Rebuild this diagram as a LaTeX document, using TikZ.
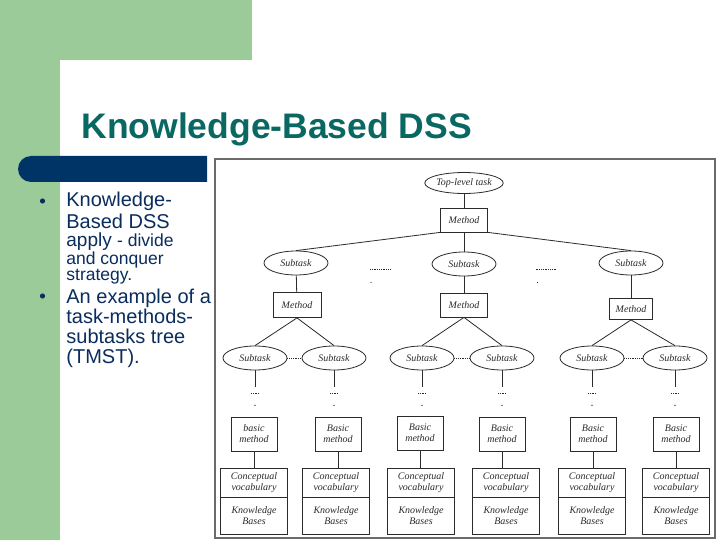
\documentclass[tikz,border=0pt]{standalone}
\usepackage{fontspec}
\setmainfont{Liberation Serif}
\setsansfont{Liberation Sans}
\usetikzlibrary{shapes.geometric,positioning}
\definecolor{DSSGreen}{HTML}{9BCB99}
\definecolor{DSSBar}{HTML}{003366}
\definecolor{DSSTeal}{HTML}{0A6862}
\definecolor{DSSText}{HTML}{0A2D5E}
\definecolor{TreeInk}{HTML}{2B2B2B}
\definecolor{FrameGray}{HTML}{6A6A6A}

\begin{document}
\begin{tikzpicture}[x=1pt,y=-1pt,line width=0.8pt,
  task/.style={ellipse,draw=TreeInk,inner sep=0pt,minimum width=64pt,minimum height=24pt},
  meth/.style={rectangle,draw=TreeInk,inner sep=1pt,minimum width=47pt,minimum height=24pt},
  basic/.style={meth,align=center,minimum width=46pt,minimum height=34pt},
  vocab/.style={rectangle,draw=TreeInk,align=center,inner sep=1pt,outer sep=0pt,minimum width=67pt,minimum height=29pt},
  kbase/.style={vocab,minimum height=37pt},
  bodyline/.style={font=\sffamily\fontsize{20}{24}\selectfont,text=DSSText,inner sep=0pt,anchor=base west},
  smallline/.style={bodyline,font=\sffamily\fontsize{17.5}{20}\selectfont}]
  \useasboundingbox (0,0) rectangle (720,540);

  % slide background
  \fill[white] (0,0) rectangle (720,540);
  \fill[DSSGreen] (0,0) rectangle (252,60);
  \fill[DSSGreen] (0,0) rectangle (60,540);
  \fill[white] (80,60) rectangle (720,540);
  \fill[white] (60,80) rectangle (720,540);
  \fill[white] (80,80) circle (20pt);
  \fill[DSSBar] (207,156) [rounded corners=13pt] -- (18,156) -- (18,182) [sharp corners] -- (207,182) -- cycle;

  \node[font=\sffamily\bfseries\fontsize{35.5}{40}\selectfont,text=DSSTeal,inner sep=0pt,anchor=base west] (title) at (81,139) {Knowledge-Based DSS};

  % bullets
  \fill[DSSText] (42.5,201) circle (2.6pt);
  \node[bodyline] (k1) at (66,207) {Knowledge-};
  \node[bodyline] (k2) at (66,229) {Based DSS};
  \node[bodyline,font=\sffamily\fontsize{19}{24}\selectfont] (k3) at (66,246.5) {apply {\fontsize{17.5}{20}\selectfont - divide}};
  \node[smallline] (k4) at (66,264) {and conquer};
  \node[smallline] (k5) at (66,280.5) {strategy.};
  \fill[DSSText] (42.5,296) circle (2.6pt);
  \node[bodyline] (e1) at (66,303) {An example of a};
  \node[bodyline] (e2) at (66,323) {task-methods-};
  \node[bodyline] (e3) at (66,343) {subtasks tree};
  \node[bodyline] (e4) at (66,363) {(TMST).};

  % the TMST figure
  \draw[FrameGray,line width=1.2pt,fill=white] (215,159) rectangle (715,538);

  \begin{scope}[font=\rmfamily\itshape\fontsize{10}{11}\selectfont,text=TreeInk,draw=TreeInk]
    \node[task,minimum width=72pt,minimum height=21pt] (top) at (464,183) {Top-level task};
    \node[meth] (m0) at (464,220) {Method};
    \draw (top) -- (m0);

    \node[task] (sA) at (296,263) {Subtask};
    \node[task] (sB) at (464,264) {Subtask};
    \node[task] (sC) at (631,263) {Subtask};
    \draw (m0.south west) -- (sA.north);
    \draw (m0) -- (sB);
    \draw (m0.south east) -- (sC.north);
    \path (sA) -- (sB) coordinate[pos=.5] (gapAB);
    \path (sB) -- (sC) coordinate[pos=.5] (gapBC);
    \draw[densely dotted] ([xshift=-10pt,yshift=-6pt]gapAB) -- ++(20,0);
    \draw[densely dotted] ([xshift=-12pt,yshift=-6pt]gapBC) -- ++(20,0);
    \fill[TreeInk] ([xshift=-9pt,yshift=-19pt]gapAB) circle (0.6pt);
    \fill[TreeInk] ([xshift=-10pt,yshift=-19pt]gapBC) circle (0.6pt);

    \node[meth,minimum width=48pt,minimum height=25pt] (mA) at (297,305) {Method};
    \node[meth] (mB) at (464,305) {Method};
    \node[meth,minimum width=43pt,minimum height=21pt] (mC) at (631,309) {Method};
    \draw (sA) -- (mA);
    \draw (sB) -- (mB);
    \draw (sC) -- (mC);

    \node[task] (t1) at (255,358) {Subtask};
    \node[task] (t2) at (334,358) {Subtask};
    \node[task] (t3) at (422,358) {Subtask};
    \node[task] (t4) at (502,358) {Subtask};
    \node[task] (t5) at (592,358) {Subtask};
    \node[task] (t6) at (675,358) {Subtask};
    \draw (mA.south) -- (t1.north);
    \draw (mA.south) -- (t2.north);
    \draw (mB.south) -- (t3.north);
    \draw (mB.south) -- (t4.north);
    \draw (mC.south) -- (t5.north);
    \draw (mC.south) -- (t6.north);
    \draw[densely dotted] (t1) -- (t2);
    \draw[densely dotted] (t3) -- (t4);
    \draw[densely dotted] (t5) -- (t6);

    \node[basic] (b1) at (254,434) {basic\\method};
    \node[basic] (b2) at (338,434) {Basic\\method};
    \node[basic] (b3) at (420,433) {Basic\\method};
    \node[basic] (b4) at (502,434) {Basic\\method};
    \node[basic] (b5) at (593,434) {Basic\\method};
    \node[basic] (b6) at (676,434) {Basic\\method};

    % subtask down to the basic method: line, dots
    \draw (t1.south) -- ++(0,17) coordinate (v1);
    \draw (t2.south) -- ++(0,17) coordinate (v2);
    \draw (t3.south) -- ++(0,17) coordinate (v3);
    \draw (t4.south) -- ++(0,17) coordinate (v4);
    \draw (t5.south) -- ++(0,17) coordinate (v5);
    \draw (t6.south) -- ++(0,17) coordinate (v6);
    \draw[densely dotted] ([xshift=-4pt,yshift=-6pt]v1) -- ++(8,0);
    \draw[densely dotted] ([xshift=-4pt,yshift=-6pt]v2) -- ++(8,0);
    \draw[densely dotted] ([xshift=-4pt,yshift=-6pt]v3) -- ++(8,0);
    \draw[densely dotted] ([xshift=-4pt,yshift=-6pt]v4) -- ++(8,0);
    \draw[densely dotted] ([xshift=-4pt,yshift=-6pt]v5) -- ++(8,0);
    \draw[densely dotted] ([xshift=-4pt,yshift=-6pt]v6) -- ++(8,0);
    \fill[TreeInk] ([yshift=-18pt]v1) circle (0.7pt);
    \fill[TreeInk] ([yshift=-18pt]v2) circle (0.7pt);
    \fill[TreeInk] ([yshift=-18pt]v3) circle (0.7pt);
    \fill[TreeInk] ([yshift=-18pt]v4) circle (0.7pt);
    \fill[TreeInk] ([yshift=-18pt]v5) circle (0.7pt);
    \fill[TreeInk] ([yshift=-18pt]v6) circle (0.7pt);

    \node[vocab,anchor=north] (cv1) at (254,468) {Conceptual\\vocabulary};
    \node[vocab,anchor=north] (cv2) at (336,468) {Conceptual\\vocabulary};
    \node[vocab,anchor=north] (cv3) at (421,468) {Conceptual\\vocabulary};
    \node[vocab,anchor=north] (cv4) at (506,468) {Conceptual\\vocabulary};
    \node[vocab,anchor=north] (cv5) at (592,468) {Conceptual\\vocabulary};
    \node[vocab,anchor=north] (cv6) at (676,468) {Conceptual\\vocabulary};
    \node[kbase,below=0pt of cv1] (kb1) {Knowledge\\Bases};
    \node[kbase,below=0pt of cv2] (kb2) {Knowledge\\Bases};
    \node[kbase,below=0pt of cv3] (kb3) {Knowledge\\Bases};
    \node[kbase,below=0pt of cv4] (kb4) {Knowledge\\Bases};
    \node[kbase,below=0pt of cv5] (kb5) {Knowledge\\Bases};
    \node[kbase,below=0pt of cv6] (kb6) {Knowledge\\Bases};
    \draw (b1.south) -- (b1.south |- cv1.north);
    \draw (b2.south) -- (b2.south |- cv2.north);
    \draw (b3.south) -- (b3.south |- cv3.north);
    \draw (b4.south) -- (b4.south |- cv4.north);
    \draw (b5.south) -- (b5.south |- cv5.north);
    \draw (b6.south) -- (b6.south |- cv6.north);
  \end{scope}
\end{tikzpicture}
\end{document}
